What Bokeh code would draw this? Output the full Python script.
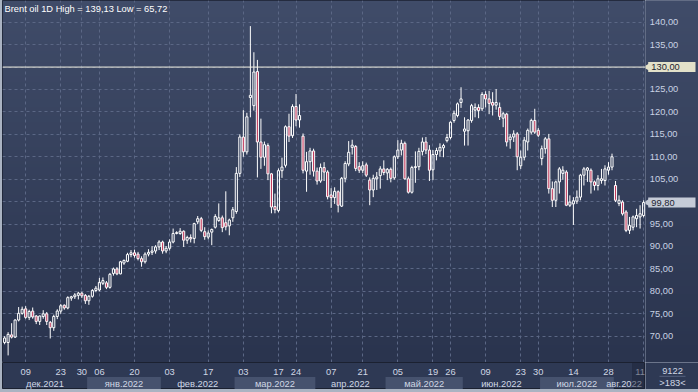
import numpy as np
from bokeh.plotting import figure
from bokeh.layouts import column, row
from bokeh.models import (Range1d, FixedTicker, Span, Label, ColumnDataSource,
                          GlobalInlineStyleSheet, Grid)
from bokeh.embed import file_html
from bokeh.resources import INLINE
from bokeh.core.properties import value

# ---------------- data (Brent oil, daily bars, 01.12.2021 - 11.08.2022) -------------
opens = [68.6, 68.6, 70.3, 69.8, 73.6, 75.1, 76.1, 74.2, 75.6, 74.5,
         73.3, 74.4, 75.0, 73.1, 71.9, 74.4, 75.6, 76.9, 76.3, 78.5,
         78.8, 79.1, 79.6, 79.1, 77.9, 78.9, 80.2, 80.3, 81.8, 81.9,
         80.9, 84.0, 85.0, 83.9, 86.3, 86.7, 88.2, 88.6, 88.3, 87.3,
         86.6, 88.3, 88.7, 89.0, 89.9, 91.0, 89.0, 89.6, 91.0, 92.9,
         92.9, 93.4, 91.4, 92.0, 91.8, 95.5, 96.2, 93.3, 92.1, 93.2,
         94.3, 95.8, 96.4, 95.3, 94.6, 96.4, 97.8, 106.3, 114.4, 111.1,
         123.2, 121.4, 129.0, 113.3, 109.9, 112.5, 106.2, 98.9, 98.0, 106.9,
         108.1, 116.7, 114.7, 121.2, 118.2, 114.6, 106.8, 108.9, 111.3, 106.8,
         104.6, 107.6, 106.6, 101.5, 100.9, 102.2, 99.0, 105.2, 108.4, 112.1,
         112.3, 107.8, 107.0, 108.2, 104.8, 102.6, 105.1, 105.8, 107.3, 106.4,
         107.2, 105.3, 110.0, 111.5, 113.0, 105.1, 102.1, 107.6, 107.8, 111.2,
         113.3, 111.5, 107.1, 110.5, 111.3, 112.0, 113.6, 114.3, 118.1, 119.2,
         122.1, 115.7, 115.8, 118.1, 120.4, 121.0, 120.7, 123.9, 122.9, 122.1,
         121.5, 121.0, 118.6, 119.5, 113.8, 114.4, 115.1, 108.0, 109.9, 113.3,
         115.5, 118.1, 115.9, 109.6, 111.8, 114.0, 102.9, 100.3, 104.4, 106.3,
         106.6, 99.2, 99.5, 100.1, 101.0, 105.9, 107.0, 107.0, 104.4, 103.6,
         104.7, 104.7, 107.0, 107.7, 103.6, 99.6, 99.9, 97.7, 93.6, 94.3,
         96.2, 96.6, 96.9]
highs = [70.0, 70.9, 72.9, 73.8, 76.5, 76.6, 76.7, 75.9, 76.4, 74.7,
         74.6, 75.8, 75.4, 73.4, 74.8, 76.0, 77.2, 77.1, 78.9, 79.0,
         79.6, 79.9, 79.9, 79.4, 79.2, 80.5, 81.2, 83.0, 83.1, 82.3,
         84.1, 85.3, 85.4, 86.8, 87.1, 88.6, 89.2, 89.3, 88.8, 87.8,
         88.7, 89.4, 90.1, 90.3, 91.4, 91.3, 90.1, 91.6, 94.0, 93.4,
         94.1, 93.6, 92.4, 92.7, 95.3, 96.8, 96.6, 94.3, 93.6, 94.0,
         97.2, 99.6, 96.9, 102.3, 96.2, 98.8, 107.7, 115.0, 120.4, 119.8,
         139.13, 133.3, 131.6, 118.5, 113.4, 113.0, 106.4, 101.8, 107.4, 109.8,
         117.0, 119.6, 121.7, 124.0, 121.7, 115.2, 111.1, 112.0, 111.8, 107.6,
         108.5, 108.8, 107.0, 103.0, 103.2, 102.5, 105.5, 109.0, 113.5, 113.8,
         112.6, 108.8, 109.0, 108.7, 105.4, 106.0, 106.6, 107.9, 109.2, 107.5,
         107.6, 110.3, 113.7, 113.8, 113.4, 105.6, 108.0, 111.2, 112.0, 114.3,
         114.4, 112.6, 111.5, 112.0, 113.0, 112.9, 115.1, 117.9, 120.3, 122.1,
         125.5, 118.8, 118.4, 121.8, 121.9, 121.7, 124.4, 124.6, 124.7, 124.4,
         125.1, 122.1, 120.0, 119.8, 115.1, 115.9, 115.5, 111.4, 114.4, 116.3,
         118.5, 120.7, 116.4, 112.5, 114.4, 115.1, 104.5, 104.7, 107.7, 107.9,
         107.0, 101.4, 101.0, 102.5, 106.2, 107.7, 107.7, 107.4, 104.7, 105.9,
         107.3, 108.1, 108.8, 110.7, 104.6, 101.4, 100.3, 98.1, 96.6, 96.9,
         98.4, 99.2, 100.3]
lows = [68.2, 65.72, 69.5, 69.6, 73.3, 74.8, 73.9, 73.6, 73.9, 72.7,
        72.5, 73.9, 72.5, 69.5, 71.2, 73.8, 75.0, 75.9, 76.0, 77.9,
        78.3, 78.2, 78.5, 77.2, 77.0, 78.6, 79.8, 80.0, 81.4, 80.5,
        80.6, 83.5, 83.6, 83.8, 85.9, 86.5, 87.6, 87.5, 86.9, 85.5,
        86.2, 87.8, 88.1, 88.4, 89.2, 88.4, 88.5, 89.1, 90.7, 92.7,
        92.6, 89.9, 90.6, 90.9, 90.7, 95.0, 93.2, 91.5, 91.6, 90.3,
        94.0, 95.5, 93.2, 93.6, 92.5, 95.5, 97.3, 105.5, 110.0, 110.5,
        118.8, 120.3, 105.4, 107.3, 108.0, 104.8, 97.4, 97.4, 97.6, 105.3,
        107.6, 113.3, 114.2, 116.8, 116.5, 106.3, 102.2, 106.0, 105.6, 103.8,
        104.2, 104.6, 100.5, 98.6, 99.5, 97.6, 98.8, 104.3, 107.9, 110.5,
        106.8, 106.4, 106.4, 105.5, 99.2, 101.0, 102.6, 102.9, 105.9, 104.8,
        104.3, 104.9, 109.5, 110.3, 104.9, 101.8, 101.8, 104.2, 107.0, 110.3,
        110.6, 104.6, 104.8, 109.2, 110.0, 109.9, 113.2, 113.9, 117.6, 118.8,
        120.9, 112.5, 112.5, 117.6, 118.8, 118.6, 120.2, 121.0, 119.5, 119.2,
        120.5, 118.2, 116.6, 112.3, 111.8, 113.3, 107.0, 107.3, 109.2, 111.4,
        115.0, 115.1, 114.4, 108.1, 110.7, 101.8, 98.8, 98.8, 101.8, 104.9,
        99.0, 98.8, 94.8, 99.5, 100.3, 103.6, 104.4, 101.8, 102.5, 102.5,
        104.0, 103.6, 106.0, 107.0, 99.9, 99.0, 96.9, 93.2, 92.8, 93.6,
        94.3, 94.0, 96.5]
closes = [69.6, 70.4, 69.8, 73.6, 75.1, 76.0, 74.2, 75.5, 74.3, 73.3,
          74.5, 75.0, 73.3, 71.9, 74.4, 75.6, 76.8, 76.3, 78.6, 78.8,
          79.2, 79.6, 79.0, 77.9, 78.9, 80.2, 80.7, 82.0, 82.4, 80.9,
          83.8, 85.0, 83.9, 86.6, 86.9, 88.2, 88.6, 88.0, 87.3, 86.6,
          88.3, 88.7, 89.0, 89.9, 91.0, 89.0, 89.6, 91.0, 92.9, 93.1,
          93.4, 91.4, 92.0, 91.7, 95.1, 96.2, 93.6, 92.2, 93.0, 93.8,
          96.7, 96.4, 94.2, 94.4, 95.9, 98.2, 106.3, 114.4, 111.1, 118.9,
          123.7, 128.9, 113.3, 109.9, 112.7, 106.2, 98.8, 98.2, 106.9, 107.7,
          116.7, 114.6, 121.2, 118.2, 119.2, 107.0, 108.9, 111.3, 106.8, 104.6,
          107.6, 106.6, 101.1, 100.9, 102.3, 99.2, 105.2, 108.5, 111.0, 112.6,
          107.4, 107.0, 108.0, 105.9, 102.6, 105.2, 105.5, 107.3, 106.5, 107.2,
          105.2, 110.0, 111.5, 113.0, 105.1, 102.1, 107.6, 107.8, 111.2, 113.3,
          111.5, 107.0, 110.5, 111.4, 112.1, 112.5, 114.3, 117.7, 119.7, 121.8,
          122.9, 116.2, 118.2, 121.4, 121.0, 120.3, 123.9, 122.9, 121.9, 121.5,
          122.1, 119.0, 119.6, 113.3, 114.4, 115.1, 110.0, 109.9, 113.7, 115.9,
          118.1, 115.5, 114.8, 111.8, 114.0, 102.9, 100.3, 104.4, 107.3, 107.0,
          99.2, 99.9, 100.2, 101.0, 105.9, 107.3, 107.5, 104.4, 103.6, 105.1,
          105.1, 107.3, 107.7, 110.0, 100.3, 100.3, 97.3, 93.6, 94.7, 96.6,
          96.9, 97.3, 99.8]

date_ticks = [6, 16, 22, 27, 37, 47, 58, 68, 78, 83, 93, 102, 112, 122, 127,
              137, 147, 152, 162, 172, 182]
date_labels = ["09", "23", "30", "06", "20", "03", "17", "03", "17", "24", "07",
               "21", "05", "19", "26", "09", "23", "30", "14", "28", "11"]
month_start = [0, 24, 45, 66, 89, 109, 131, 153, 174]
month_labels = ["дек.2021", "янв.2022", "фев.2022", "мар.2022", "апр.2022",
                "май.2022", "июн.2022", "июл.2022", "авг.2022"]
price_ticks = [70, 75, 80, 85, 90, 95, 100, 105, 110, 115, 120, 125, 130, 135, 140]
price_labels = [f"{v:.2f}".replace(".", ",") for v in price_ticks]
level_price = 130.0
last_price = 99.80
title_text = "Brent oil 1D High = 139,13 Low = 65,72"
corner_top = "9122"
corner_bottom = ">183<"

# ---------------- styling -------------
FONT = "Liberation Sans"
FS = "9.3px"
TXT = "#d0d7e4"
n = len(closes)
X0, X1 = -0.6, n - 0.46
Y0, Y1 = 64.14, 144.84
PW, RW = 643, 53          # plot width, right panel width
UNIT = PW / (X1 - X0)     # px per bar
OUTLINE = "#1b2131"

def gradient_image():
    H = 128
    top_c = np.array([0x40, 0x4c, 0x69], dtype=float)
    bot_c = np.array([0x2a, 0x34, 0x4e], dtype=float)
    t = np.linspace(0, 1, H)[:, None]
    cols = bot_c + (top_c - bot_c) * t
    img = np.empty((H, 1), dtype=np.uint32)
    view = img.view(dtype=np.uint8).reshape((H, 1, 4))
    view[:, 0, 0] = cols[:, 0]
    view[:, 0, 1] = cols[:, 1]
    view[:, 0, 2] = cols[:, 2]
    view[:, 0, 3] = 255
    return img

def bare(width, height, x_range, y_range):
    f = figure(width=width, height=height, x_range=x_range, y_range=y_range,
               output_backend="svg", toolbar_location=None, x_axis_location=None,
               y_axis_location=None, min_border=0)
    f.grid.visible = False
    return f

# ---------------- main price panel -------------
p = bare(PW, 362, Range1d(X0, X1), Range1d(Y0, Y1))
p.background_fill_color = "#34405c"
p.border_fill_color = "#34405c"
p.outline_line_color = OUTLINE
p.image_rgba(image=[gradient_image()], x=X0, y=Y0, dw=X1 - X0, dh=Y1 - Y0, level="image")

grid_kw = dict(grid_line_color="#5b6785", grid_line_dash="3 3", grid_line_width=1)
p.add_layout(Grid(dimension=0, ticker=FixedTicker(ticks=date_ticks), **grid_kw))
p.add_layout(Grid(dimension=1, ticker=FixedTicker(ticks=price_ticks), **grid_kw))

o = np.array(opens); c = np.array(closes); h = np.array(highs); l = np.array(lows)
x = np.arange(n)
btop = np.maximum(o, c); bbot = np.minimum(o, c)
up = c >= o
src = ColumnDataSource(dict(x=x, top=btop, bot=bbot, high=h, low=l))
p.segment(x0="x", y0="high", x1="x", y1="top", source=src, line_color="white", line_width=1)
p.segment(x0="x", y0="bot", x1="x", y1="low", source=src, line_color="white", line_width=1)
src_up = ColumnDataSource(dict(x=x[up], top=btop[up], bot=bbot[up]))
src_dn = ColumnDataSource(dict(x=x[~up], top=btop[~up], bot=bbot[~up]))
p.vbar(x="x", top="top", bottom="bot", width=0.6, source=src_up, fill_alpha=0,
       line_color="white", line_width=1)
p.vbar(x="x", top="top", bottom="bot", width=0.6, source=src_dn, fill_color="#c23a5c",
       line_color="white", line_width=1)

p.add_layout(Span(location=level_price, dimension="width", line_color="#f2f0e2", line_width=1))
p.add_layout(Label(x=2, y=353.5, x_units="screen", y_units="screen", text=title_text,
                   text_font=FONT, text_font_size=FS, text_color="#ffffff",
                   text_baseline="middle"))

# ---------------- right price-scale panel -------------
rp = bare(RW, 362, Range1d(0, RW), p.y_range)
rp.background_fill_color = "#34405c"
rp.border_fill_color = "#34405c"
rp.outline_line_color = None
rp.image_rgba(image=[gradient_image()], x=0, y=Y0, dw=RW, dh=Y1 - Y0, level="image")
rp.text(x=4.3, y=price_ticks, text=price_labels, text_font=value(FONT),
        text_font_size=FS, text_color="#c9d2e4", text_baseline="middle")

tag_half = 5.0 / 4.486     # half of a 10 px tag, in price units
for price, bg in ((level_price, "#e3e1c9"), (last_price, "#c5cbd7")):
    rp.quad(left=2.7, right=50, bottom=price - tag_half, top=price + tag_half,
            fill_color=bg, line_color=None)
    rp.scatter(x=[1.6], y=[price], marker="triangle", size=7, angle=np.pi / 2,
               fill_color=bg, line_color=None)
    rp.text(x=[5.8], y=[price], text=[f"{price:.2f}".replace(".", ",")],
            text_font=value(FONT), text_font_size=FS, text_color="#1d2230",
            text_baseline="middle")

# ---------------- bottom date strip -------------
b = bare(PW, 27, p.x_range, Range1d(0, 27))
b.background_fill_color = "#2e3954"
b.border_fill_color = "#2e3954"
b.outline_line_color = OUTLINE

ms = np.array(month_start + [n])
lefts = ms[:-1] - 0.5
rights = np.minimum(ms[1:] - 0.5, X1)
light = np.arange(len(month_labels)) % 2 == 1
b.quad(left=lefts[light], right=rights[light], bottom=0, top=12.5,
       fill_color="#46526e", line_color=None)
# keep labels inside the strip (the last month is only partly shown)
month_x = np.minimum((lefts + rights) / 2, X1 - 21.5 / UNIT)
date_x = np.minimum(np.array(date_ticks, dtype=float), X1 - 5.5 / UNIT)
b.text(x=month_x, y=5.8, text=month_labels, text_font=value(FONT),
       text_font_size=FS, text_color=TXT, text_align="center", text_baseline="middle")
b.text(x=date_x, y=17.3, text=date_labels, text_font=value(FONT),
       text_font_size=FS, text_color=TXT, text_align="center", text_baseline="middle")
b.quad(left=n - 4.3, right=X1, bottom=0, top=27, fill_color="#1a2236",
       fill_alpha=0.45, line_color=None)

# ---------------- bottom-right corner -------------
rb = bare(RW, 27, Range1d(0, RW), Range1d(0, 27))
rb.background_fill_color = "#2e3954"
rb.border_fill_color = "#2e3954"
rb.outline_line_color = None
rb.text(x=[27, 27], y=[19, 6.3], text=[corner_top, corner_bottom], text_font=value(FONT),
        text_font_size=FS, text_color=TXT, text_align="center", text_baseline="middle")
rb.segment(x0=[14], y0=[13.2], x1=[40], y1=[13.2], line_color="#56627e", line_width=1)

css = GlobalInlineStyleSheet(css="html,body{margin:0;padding:0;overflow:hidden;background:#aab3c2;}")
layout = column(row(p, rp, spacing=0), row(b, rb, spacing=0), spacing=0,
                stylesheets=[css],
                styles={"position": "absolute", "left": "2px", "top": "0px"})

open("out.html", "w").write(file_html(layout, INLINE))
